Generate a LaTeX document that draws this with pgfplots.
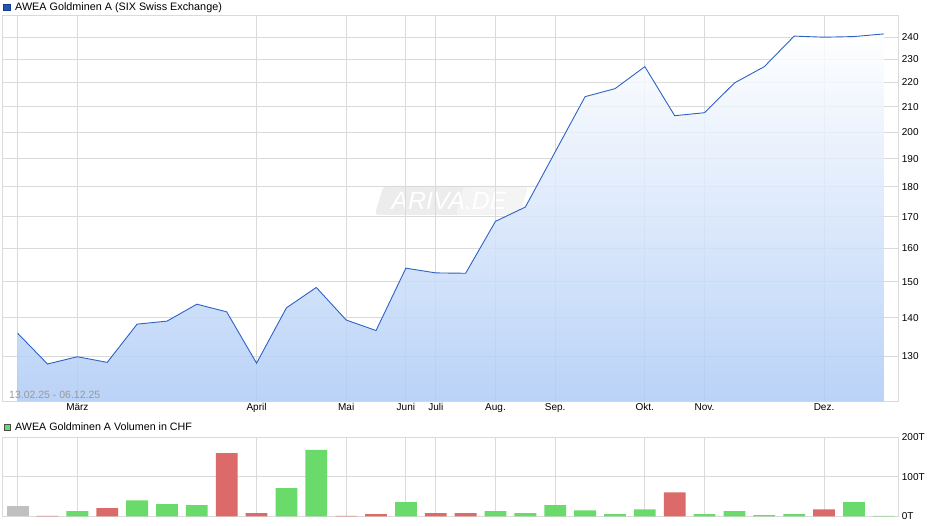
\documentclass[border=0pt]{standalone}
\usepackage{pgfplots}
\pgfplotsset{compat=1.18}
\usepackage{fontspec}
\setmainfont{Liberation Sans}
\definecolor{gridc}{HTML}{DADADA}
\definecolor{linec}{HTML}{2E62C4}
\definecolor{fillbot}{HTML}{AECBF6}
\definecolor{volred}{HTML}{DB6A68}
\definecolor{volgreen}{HTML}{6ADB6A}
\definecolor{volgray}{HTML}{C0C0C0}
\definecolor{legblue}{HTML}{2255BB}
\begin{document}
\begin{tikzpicture}[x=1pt,y=1pt]
\useasboundingbox (0,0) rectangle (940,526);
% watermark
\begin{scope}[shift={(452,325.5)}, xslant=0.3]
\fill[gray!15, rounded corners=4pt] (-73,-14.5) rectangle (50,14.5);
\fill[gray!9, rounded corners=4pt] (8,-14.5) rectangle (72,14.5);
\end{scope}
\node[text=white, font=\fontsize{25}{28}\selectfont\itshape] at (449,325.5) {ARIVA.DE};

\begin{axis}[
  at={(2.7pt,124.5pt)}, anchor=south west,
  scale only axis, width=896pt, height=385.5pt,
  xmin=-0.5, xmax=29.5,
  ymode=log, ymin=119.2, ymax=250,
  ytick={130,140,150,160,170,180,190,200,210,220,230,240},
  yticklabels={130,140,150,160,170,180,190,200,210,220,230,240},
  xtick={0,2,8,11,13,14,16,18,21,23,27},
  xticklabels={,März,April,Mai,Juni,Juli,Aug.,Sep.,Okt.,Nov.,Dez.},
  yticklabel pos=right,
  grid=major, major grid style={gridc, line width=1pt},
  axis line style={gridc, line width=1pt},
  tick style={draw=none},
  /pgf/number format/assume math mode=true,
  yticklabel style={font=\fontsize{10}{12}\selectfont, text=black, inner sep=3pt},
  xticklabel style={font=\fontsize{10}{12}\selectfont, text=black, inner sep=2pt},
  log origin=infty,
]
\addplot[draw=none, fill opacity=0.85, top color=white, bottom color=fillbot] coordinates {
(0,135.9) (1,128.1) (2,129.9) (3,128.5) (4,138.3) (5,139.1) (6,143.7) (7,141.6)
(8,128.3) (9,142.7) (10,148.4) (11,139.4) (12,136.6) (13,154.0) (14,152.6) (15,152.5)
(16,168.5) (17,173.2) (18,192.6) (19,214.1) (20,217.4) (21,226.8) (22,206.4) (23,207.6)
(24,219.8) (25,226.8) (26,240.5) (27,240.0) (28,240.3) (29,241.5)
} \closedcycle;
\addplot[linec, line width=0.9pt, mark=none] coordinates {
(0,135.9) (1,128.1) (2,129.9) (3,128.5) (4,138.3) (5,139.1) (6,143.7) (7,141.6)
(8,128.3) (9,142.7) (10,148.4) (11,139.4) (12,136.6) (13,154.0) (14,152.6) (15,152.5)
(16,168.5) (17,173.2) (18,192.6) (19,214.1) (20,217.4) (21,226.8) (22,206.4) (23,207.6)
(24,219.8) (25,226.8) (26,240.5) (27,240.0) (28,240.3) (29,241.5)
};
\end{axis}

\begin{axis}[
  at={(2.7pt,9.5pt)}, anchor=south west,
  scale only axis, width=896pt, height=79.2pt,
  xmin=-0.5, xmax=29.5,
  ymin=0, ymax=200,
  ytick={0,100,200}, yticklabels={0T,100T,200T},
  xtick={0,2,8,11,13,14,16,18,21,23,27},
  xticklabels={},
  yticklabel pos=right,
  grid=major, major grid style={gridc, line width=1pt},
  axis line style={gridc, line width=1pt},
  tick style={draw=none},
  yticklabel style={font=\fontsize{10}{12}\selectfont, text=black, inner sep=3pt},
]
\addplot[ybar, bar width=0.73, bar shift=0pt, fill=volgray, draw=none] coordinates {(0,26)};
\addplot[ybar, bar width=0.73, bar shift=0pt, fill=volred, draw=none] coordinates {
(1,1.5) (3,21) (7,160) (8,8.4) (11,1.5) (12,5.9) (14,8.4) (15,8.4) (22,61) (27,17.7)};
\addplot[ybar, bar width=0.73, bar shift=0pt, fill=volgreen, draw=none] coordinates {
(2,13.4) (4,41) (5,31) (6,28.6) (9,71.6) (10,168) (13,36) (16,13.4) (17,8.4) (18,28.6)
(19,15.5) (20,5.9) (21,17.7) (23,5.9) (24,13.4) (25,3.4) (26,5.9) (28,36) (29,1.5)};
\end{axis}

% titles
\filldraw[fill=legblue, draw=legblue!70!black, line width=0.6pt] (3.5,515.5) rectangle (10,522);
\node[anchor=base west, inner sep=0pt, font=\fontsize{10.8}{12}\selectfont] at (15,515) {AWEA Goldminen A (SIX Swiss Exchange)};
\filldraw[fill=volgreen, draw=black!70, line width=0.6pt] (4,95.5) rectangle (10.5,102);
\node[anchor=base west, inner sep=0pt, font=\fontsize{10.7}{12}\selectfont] at (15,95) {AWEA Goldminen A Volumen in CHF};
\node[anchor=base west, inner sep=0pt, text=black!40, font=\fontsize{10.5}{12}\selectfont] at (9,127) {13.02.25 - 06.12.25};
\end{tikzpicture}
\end{document}
